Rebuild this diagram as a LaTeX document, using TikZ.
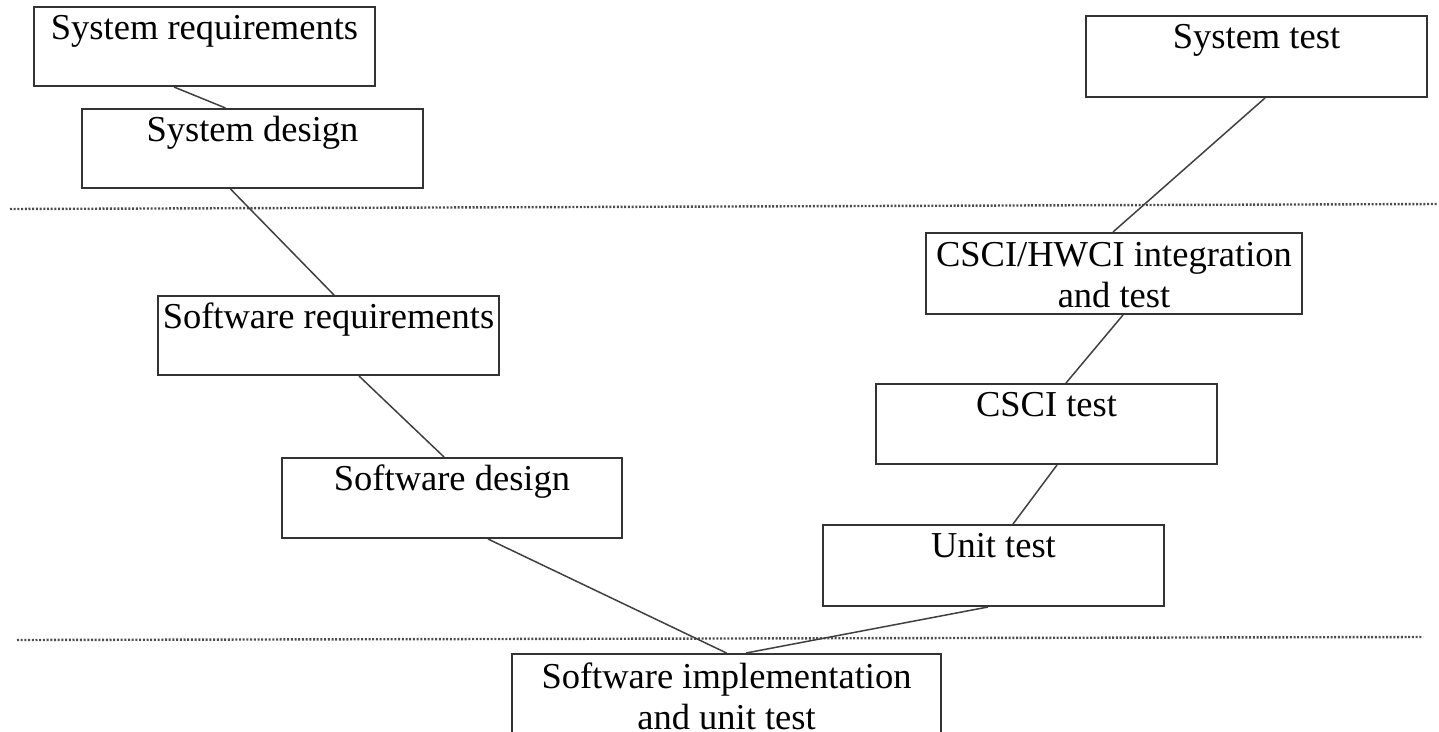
\documentclass[tikz,border=0pt]{standalone}
\usepackage{fontspec}
\setmainfont{Liberation Serif}
\begin{document}
\begin{tikzpicture}[
		x=1pt, y=-1pt,
		every node/.style={rectangle, draw=black!80, line width=2pt, anchor=north west, inner sep=0pt, align=center, minimum width=341pt, text height=32pt, text depth=47pt, font=\fontsize{36.5}{41}\selectfont},
		link/.style={draw=black!75, line width=1.5pt},
		separator/.style={draw=black!70, line width=2.4pt, dash pattern=on 2pt off 1.7pt}
		]
		\useasboundingbox (0,0) rectangle (1439,731);
		% phase separators
		\draw[separator] (10,209) -- (1438,204);
		\draw[separator] (17,640) -- (1423,637);
		% left leg
		\node (sysreq) at (33,6) {System requirements};
		\node (sysdes) at (81,108) {System design};
		\node (swreq) at (157,295) {Software requirements};
		\node (swdes) at (281,457) [minimum width=340pt, text depth=48pt] {Software design};
		\node (impl) at (511,653) [minimum width=429pt, text height=75pt, text depth=6pt] {Software implementation\\and unit test};
		% right leg
		\node (unit) at (822,524) [text depth=49pt] {Unit test};
		\node (csci) at (875,383) [text depth=48pt] {CSCI test};
		\node (integ) at (925,232) [minimum width=376pt, text height=74pt, text depth=7pt] {CSCI/HWCI integration\\and test};
		\node (systest) at (1085,15) [text depth=49pt] {System test};
		% links
		\draw[link] ([xshift=-30.5pt]sysreq.south) -- ([xshift=-27pt]sysdes.north);
		\draw[link] ([xshift=-22pt]sysdes.south) -- ([xshift=5.5pt]swreq.north);
		\draw[link] ([xshift=30.5pt]swreq.south) -- ([xshift=-8pt]swdes.north);
		\draw[link] ([xshift=36pt]swdes.south) -- (impl.north);
		\draw[link] ([xshift=19.5pt]impl.north) -- ([xshift=-5.5pt]unit.south);
		\draw[link] ([xshift=19.5pt]unit.north) -- ([xshift=10.5pt]csci.south);
		\draw[link] ([xshift=19.5pt]csci.north) -- ([xshift=9pt]integ.south);
		\draw[link] ([xshift=-1pt]integ.north) -- ([xshift=8.5pt]systest.south);
	\end{tikzpicture}
\end{document}
